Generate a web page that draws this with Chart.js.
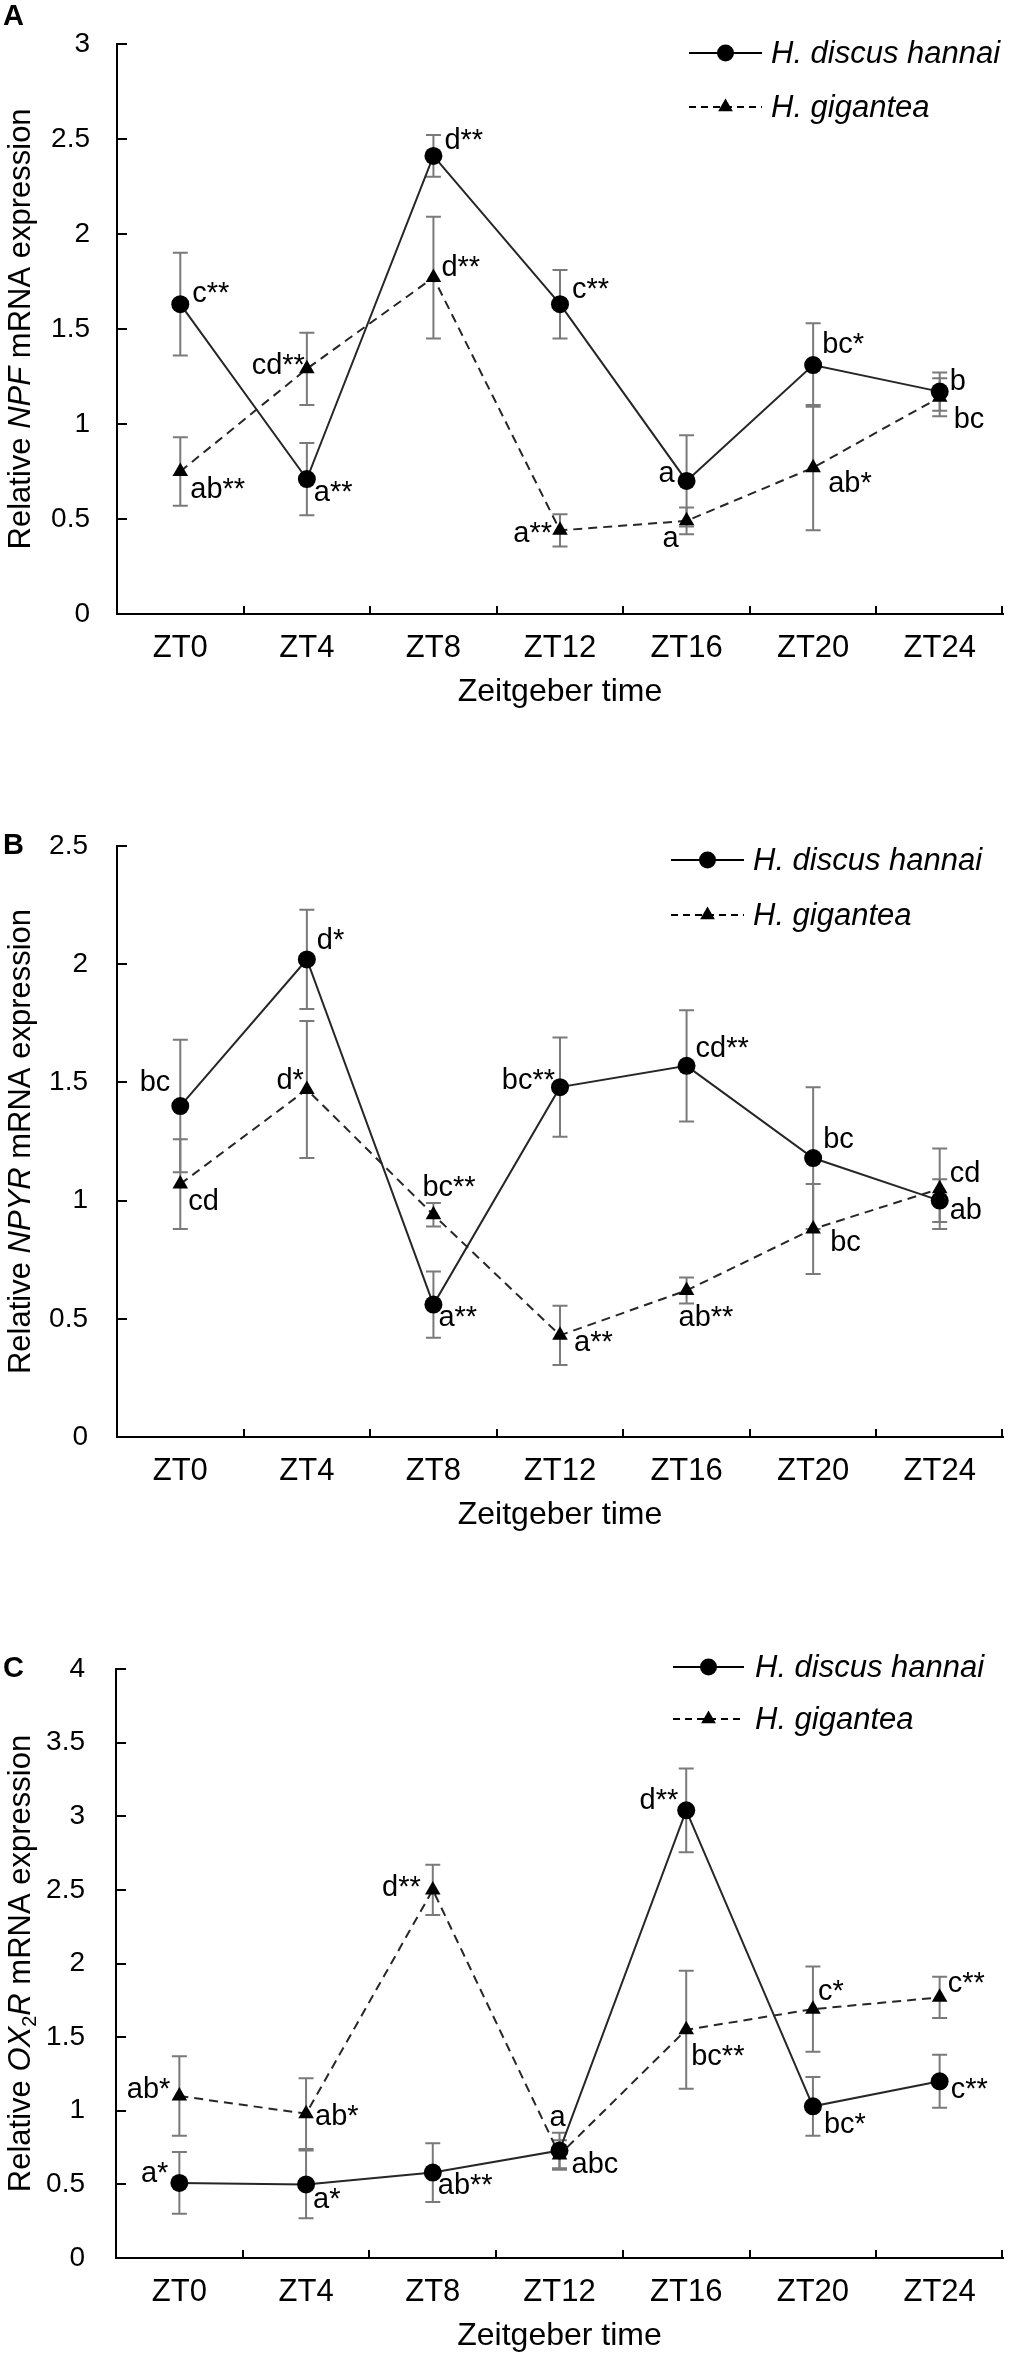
<!DOCTYPE html>
<html><head><meta charset="utf-8">
<script src="https://cdn.jsdelivr.net/npm/chart.js@4.4.1/dist/chart.umd.min.js"></script>
<style>
html,body{margin:0;padding:0;background:#fff;}
body{width:1012px;height:2361px;position:relative;overflow:hidden;}
canvas{position:absolute;left:0;}
</style></head>
<body>
<canvas id="cA" width="1012" height="770" style="top:0px;width:1012px;height:770px"></canvas>
<canvas id="cB" width="1012" height="800" style="top:770px;width:1012px;height:800px"></canvas>
<canvas id="cC" width="1012" height="791" style="top:1570px;width:1012px;height:791px"></canvas>
<script>
// ---------------- DATA ----------------
const categories = ['ZT0', 'ZT4', 'ZT8', 'ZT12', 'ZT16', 'ZT20', 'ZT24'];
const seriesNames = ['H. discus hannai', 'H. gigantea'];

// Panel A: NPF
const npfTicks = [0, 0.5, 1, 1.5, 2, 2.5, 3];
const npfHdh = [1.63, 0.71, 2.41, 1.63, 0.70, 1.31, 1.17];
const npfHdhErr = [0.27, 0.19, 0.11, 0.18, 0.24, 0.22, 0.10];
const npfHg = [0.75, 1.29, 1.77, 0.44, 0.49, 0.77, 1.14];
const npfHgErr = [0.18, 0.19, 0.32, 0.085, 0.07, 0.33, 0.10];
const npfHdhSig = ['c**', 'a**', 'd**', 'c**', 'a', 'bc*', 'b'];
const npfHgSig = ['ab**', 'cd**', 'd**', 'a**', 'a', 'ab*', 'bc'];

// Panel B: NPYR
const npyrTicks = [0, 0.5, 1, 1.5, 2, 2.5];
const npyrHdh = [1.40, 2.02, 0.56, 1.48, 1.57, 1.18, 1.00];
const npyrHdhErr = [0.28, 0.21, 0.14, 0.21, 0.235, 0.30, 0.09];
const npyrHg = [1.07, 1.47, 0.94, 0.43, 0.62, 0.88, 1.05];
const npyrHgErr = [0.19, 0.29, 0.05, 0.125, 0.055, 0.19, 0.17];
const npyrHdhSig = ['bc', 'd*', 'a**', 'bc**', 'cd**', 'bc', 'ab'];
const npyrHgSig = ['cd', 'd*', 'bc**', 'a**', 'ab**', 'bc', 'cd'];

// Panel C: OX2R
const ox2rTicks = [0, 0.5, 1, 1.5, 2, 2.5, 3, 3.5, 4];
const ox2rHdh = [0.51, 0.50, 0.58, 0.73, 3.04, 1.03, 1.20];
const ox2rHdhErr = [0.21, 0.23, 0.20, 0.12, 0.285, 0.20, 0.18];
const ox2rHg = [1.10, 0.98, 2.50, 0.70, 1.55, 1.69, 1.77];
const ox2rHgErr = [0.27, 0.24, 0.17, 0.10, 0.40, 0.29, 0.14];
const ox2rHdhSig = ['a*', 'a*', 'ab**', 'a', 'd**', 'bc*', 'c**'];
const ox2rHgSig = ['ab*', 'ab*', 'd**', 'abc', 'bc**', 'c*', 'c**'];

// ---------------- LAYOUT / STYLE (not data) ----------------
const FONT = '"Liberation Sans", Arial, Helvetica, sans-serif';
const SIG_PX = 29, TICK_Y_PX = 28, TICK_X_PX = 31, TITLE_PX = 31, LEGEND_PX = 31;
// label placement: [dx, dy, align]
const posA = {
  hdh: [[12,-10,'left'],[7,14,'left'],[11,-15,'left'],[12,-14,'left'],[-12,-7,'right'],[9,-20,'left'],[10,-10,'left']],
  hg:  [[10,19,'left'],[-2,-3,'right'],[8,-10,'left'],[-8,4,'right'],[-8,18,'right'],[15,16,'left'],[14,23,'left']]
};
const posB = {
  hdh: [[-10,-23,'right'],[10,-18,'left'],[5,13,'left'],[-5,-6,'right'],[9,-17,'left'],[10,-18,'left'],[10,10,'left']],
  hg:  [[8,18,'left'],[-3,-8,'right'],[-11,-27,'left'],[14,8,'left'],[-8,28,'left'],[17,14,'left'],[10,-15,'left']]
};
const posC = {
  hdh: [[-11,-9,'right'],[7,16,'left'],[5,13,'left'],[-2,-33,'center'],[-8,-9,'right'],[11,19,'left'],[11,9,'left']],
  hg:  [[-9,-6,'right'],[9,3,'left'],[-12,-2,'right'],[12,10,'left'],[5,27,'left'],[5,-17,'left'],[8,-13,'left']]
};

const errorBarPlugin = {
  id: 'errBars',
  beforeDatasetsDraw(chart) {
    const ctx = chart.ctx, ys = chart.scales.y;
    chart.data.datasets.forEach((ds, di) => {
      const meta = chart.getDatasetMeta(di);
      ctx.save();
      ctx.strokeStyle = '#7a7a7a';
      ctx.lineWidth = 2;
      meta.data.forEach((pt, i) => {
        const v = ds.data[i], e = ds.errors[i];
        const yt = ys.getPixelForValue(v + e), yb = ys.getPixelForValue(v - e);
        ctx.beginPath();
        ctx.moveTo(pt.x, yt); ctx.lineTo(pt.x, yb);
        ctx.moveTo(pt.x - 7.5, yt); ctx.lineTo(pt.x + 7.5, yt);
        ctx.moveTo(pt.x - 7.5, yb); ctx.lineTo(pt.x + 7.5, yb);
        ctx.stroke();
      });
      ctx.restore();
    });
  }
};

const sigLabelPlugin = {
  id: 'sigLabels',
  afterDatasetsDraw(chart) {
    const ctx = chart.ctx;
    chart.data.datasets.forEach((ds, di) => {
      const meta = chart.getDatasetMeta(di);
      meta.data.forEach((pt, i) => {
        const p = ds.sigPos[i];
        ctx.save();
        ctx.font = SIG_PX + 'px ' + FONT;
        ctx.fillStyle = '#000';
        ctx.textAlign = p[2];
        ctx.textBaseline = 'middle';
        ctx.fillText(ds.sig[i], pt.x + p[0], pt.y + p[1]);
        ctx.restore();
      });
    });
  }
};

function drawMarker(ctx, style, x, y) {
  ctx.beginPath();
  if (style === 'circle') {
    ctx.arc(x, y, 8.5, 0, Math.PI * 2);
  } else {
    const r = 8.5;
    ctx.moveTo(x, y - r);
    ctx.lineTo(x + r * 0.866, y + r / 2);
    ctx.lineTo(x - r * 0.866, y + r / 2);
    ctx.closePath();
  }
  ctx.fill();
}

const decorPlugin = {
  id: 'decor',
  afterDraw(chart) {
    const ctx = chart.ctx;
    const o = chart.options.plugins.decor;
    const ca = chart.chartArea;
    const xs = chart.scales.x, ys = chart.scales.y;
    ctx.save();
    // inward tick marks
    ctx.strokeStyle = '#000';
    ctx.lineWidth = 2;
    ctx.beginPath();
    ys.ticks.forEach(t => {
      const py = Math.round(ys.getPixelForValue(t.value));
      ctx.moveTo(ca.left, py); ctx.lineTo(ca.left + 10, py);
    });
    const n = chart.data.labels.length;
    for (let i = 0; i < n; i++) {
      const ex = i < n - 1 ? (xs.getPixelForValue(i) + xs.getPixelForValue(i + 1)) / 2 : ca.right - 1;
      ctx.moveTo(Math.round(ex), ca.bottom); ctx.lineTo(Math.round(ex), ca.bottom - 8);
    }
    ctx.stroke();

    // legend
    const lg = o.legend;
    chart.data.datasets.forEach((ds, di) => {
      const ly = lg.y[di];
      ctx.save();
      ctx.strokeStyle = '#000';
      ctx.fillStyle = '#000';
      ctx.lineWidth = 2;
      ctx.setLineDash(ds.borderDash && ds.borderDash.length ? [7, 5] : []);
      ctx.beginPath();
      ctx.moveTo(lg.x0, ly); ctx.lineTo(lg.x1, ly);
      ctx.stroke();
      ctx.setLineDash([]);
      drawMarker(ctx, ds.pointStyle, (lg.x0 + lg.x1) / 2, ly);
      ctx.font = 'italic ' + LEGEND_PX + 'px ' + FONT;
      ctx.textAlign = 'left';
      ctx.textBaseline = 'middle';
      ctx.fillText(ds.label, lg.tx, ly + 1);
      ctx.restore();
    });

    // panel letter
    ctx.fillStyle = '#000';
    ctx.font = 'bold 29px ' + FONT;
    ctx.textAlign = 'left';
    ctx.textBaseline = 'alphabetic';
    ctx.fillText(o.letter, 3, o.letterY);

    // y title (mixed styles)
    const parts = o.yTitle;
    const cy = (ca.top + ca.bottom) / 2;
    const fontFor = (st) => st === 'i' ? 'italic ' + TITLE_PX + 'px ' + FONT : (st === 'sub' ? '20px ' + FONT : TITLE_PX + 'px ' + FONT);
    let total = 0;
    parts.forEach(p => { ctx.font = fontFor(p[1]); total += ctx.measureText(p[0]).width; });
    ctx.translate(30, cy);
    ctx.rotate(-Math.PI / 2);
    let xx = -total / 2;
    parts.forEach(p => {
      ctx.font = fontFor(p[1]);
      ctx.fillText(p[0], xx, p[1] === 'sub' ? 6 : 0);
      xx += ctx.measureText(p[0]).width;
    });
    ctx.restore();
  }
};

function makePanel(id, cfg) {
  const mk = (label, data, err, sig, pos, style, dash) => ({
    label, data, errors: err, sig, sigPos: pos,
    borderColor: '#262626', backgroundColor: '#000', borderWidth: 2,
    borderDash: dash, pointStyle: style,
    pointRadius: style === 'circle' ? 9 : 9,
    pointBorderWidth: 0, pointBackgroundColor: '#000',
    tension: 0, fill: false
  });
  return new Chart(document.getElementById(id), {
    type: 'line',
    data: {
      labels: categories,
      datasets: [
        mk(seriesNames[0], cfg.hdh, cfg.hdhErr, cfg.hdhSig, cfg.pos.hdh, 'circle', []),
        mk(seriesNames[1], cfg.hg, cfg.hgErr, cfg.hgSig, cfg.pos.hg, 'triangle', [9, 6])
      ]
    },
    options: {
      responsive: false,
      animation: false,
      devicePixelRatio: 1,
      layout: { padding: { top: cfg.plotTop, left: 0, right: 8, bottom: cfg.padBottom } },
      plugins: {
        legend: { display: false },
        tooltip: { enabled: false },
        decor: { legend: cfg.legend, letter: cfg.letter, letterY: cfg.letterY, yTitle: cfg.yTitle }
      },
      scales: {
        x: {
          type: 'category',
          offset: true,
          grid: { display: false, drawTicks: false },
          border: { display: true, color: '#000', width: 2 },
          ticks: { color: '#000', font: { family: FONT, size: TICK_X_PX }, padding: 16, maxRotation: 0, autoSkip: false },
          title: { display: true, text: 'Zeitgeber time', color: '#000', font: { family: FONT, size: 32, lineHeight: 1.2 }, padding: 0 },
          afterFit: (s) => { s.height = 97; }
        },
        y: {
          min: cfg.ticks[0],
          max: cfg.ticks[cfg.ticks.length - 1],
          afterBuildTicks: (s) => { s.ticks = cfg.ticks.map(v => ({ value: v })); },
          grid: { display: false, drawTicks: false },
          border: { display: true, color: '#000', width: 2 },
          ticks: { color: '#000', font: { family: FONT, size: TICK_Y_PX }, padding: cfg.tickPad, callback: (v) => String(v) },
          afterFit: (s) => { s.width = cfg.axisX; }
        }
      }
    },
    plugins: [errorBarPlugin, sigLabelPlugin, decorPlugin]
  });
}

makePanel('cA', {
  hdh: npfHdh, hdhErr: npfHdhErr, hg: npfHg, hgErr: npfHgErr,
  hdhSig: npfHdhSig, hgSig: npfHgSig, pos: posA, ticks: npfTicks,
  plotTop: 20, padBottom: 770 - 614 - 97, axisX: 117, tickPad: 27,
  legend: { y: [53, 107], x0: 689, x1: 762, tx: 771 },
  letter: 'A', letterY: 25,
  yTitle: [['Relative ', 'n'], ['NPF', 'i'], [' mRNA expression', 'n']]
});
makePanel('cB', {
  hdh: npyrHdh, hdhErr: npyrHdhErr, hg: npyrHg, hgErr: npyrHgErr,
  hdhSig: npyrHdhSig, hgSig: npyrHgSig, pos: posB, ticks: npyrTicks,
  plotTop: 76, padBottom: 800 - 667 - 97, axisX: 117, tickPad: 29,
  legend: { y: [90, 145], x0: 671, x1: 744, tx: 753 },
  letter: 'B', letterY: 84,
  yTitle: [['Relative ', 'n'], ['NPYR', 'i'], [' mRNA expression', 'n']]
});
makePanel('cC', {
  hdh: ox2rHdh, hdhErr: ox2rHdhErr, hg: ox2rHg, hgErr: ox2rHgErr,
  hdhSig: ox2rHdhSig, hgSig: ox2rHgSig, pos: posC, ticks: ox2rTicks,
  plotTop: 99, padBottom: 791 - 688 - 97, axisX: 116, tickPad: 31,
  legend: { y: [97, 149], x0: 673, x1: 744, tx: 755 },
  letter: 'C', letterY: 107,
  yTitle: [['Relative ', 'n'], ['OX', 'i'], ['2', 'sub'], ['R', 'i'], [' mRNA expression', 'n']]
});
</script>
</body></html>
